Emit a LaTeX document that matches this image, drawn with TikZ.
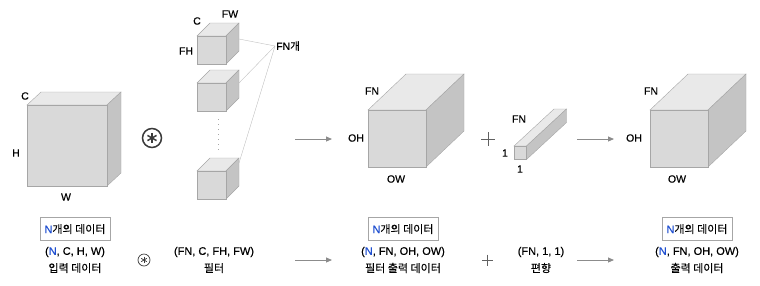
\documentclass[tikz,border=0pt]{standalone}
\usepackage{fontspec}
\setmainfont{Liberation Sans}[FakeBold=0.4]
\newfontfamily\kr{Noto Sans CJK KR}[FakeBold=0.3]
\usetikzlibrary{arrows.meta}
\definecolor{cubefront}{HTML}{D9D9D9}
\definecolor{cubetop}{HTML}{E9E9E9}
\definecolor{cubeside}{HTML}{C4C4C4}
\definecolor{cubeedge}{HTML}{A6A6A6}
\definecolor{nblue}{HTML}{1F4FD0}
\definecolor{arrowgray}{HTML}{8C8C8C}
\definecolor{signgray}{HTML}{3A3A3A}

% cube: left x, top y, width, height, depth dx, depth dy
\newcommand{\boxcube}[6]{%
  \filldraw[fill=cubetop,draw=cubeedge] (#1,#2) -- ++(#5,-#6) -- ++(#3,0) -- ++(-#5,#6) -- cycle;
  \filldraw[fill=cubeside,draw=cubeedge] (#1+#3,#2) -- ++(#5,-#6) -- ++(0,#4) -- ++(-#5,#6) -- cycle;
  \filldraw[fill=cubefront,draw=cubeedge] (#1,#2) rectangle ++(#3,#4);
}
% circled asterisk
\newcommand{\convsign}[3]{%
  \draw[signgray,line width=#3] (#1) circle (#2);
  \foreach \a in {90,150,210} {\draw[signgray,line width=#3] (#1) ++(\a:0.55*#2) -- ++(\a+180:1.1*#2);}
}

\begin{document}
\begin{tikzpicture}[x=1pt,y=-1pt,every node/.style={font=\fontsize{11}{13}\selectfont,inner sep=1pt},
  sizelbl/.style={font=\fontsize{10.5}{12}\selectfont},
  databox/.style={draw=cubeedge,inner sep=3pt,minimum width=70pt,minimum height=23pt},
  flow/.style={arrowgray,line width=0.9pt,-{Triangle[length=6pt,width=5pt]}},
  fanline/.style={cubeedge!70,line width=0.4pt}]
  \useasboundingbox (0,0) rectangle (760,285);
  % -------------------------
  % Input data
  % -------------------------
  \boxcube{27}{105}{80}{81}{14}{13}
  \node[sizelbl] (inC) at (25,96) {C};
  \node[sizelbl] (inH) at (16,153) {H};
  \node[sizelbl] (inW) at (66,197) {W};

  \coordinate (conv) at (152,138);
  \convsign{conv}{9.5pt}{1.5pt}

  % -------------------------
  % Filters (FN of them)
  % -------------------------
  \boxcube{197}{36}{29}{28}{13}{13}
  \boxcube{197}{83}{29}{28}{13}{13}
  \boxcube{197}{171}{29}{28}{13}{13}
  \draw[cubeedge,line width=1pt,dash pattern=on 1pt off 4pt] (218,119) -- (218,151);
  \node[sizelbl] (fC) at (197,21) {C};
  \node[sizelbl] (fW) at (230,14) {FW};
  \node[sizelbl] (fH) at (186,51) {FH};
  \node[sizelbl,anchor=west] (fanN) at (275,46) {FN{\kr 개}};
  \coordinate (f1) at (239,39);
  \coordinate (f2) at (239,83);
  \coordinate (f3) at (239,163);
  \foreach \f in {f1,f2,f3} \draw[fanline] (\f) -- (fanN.west);

  \coordinate (a1s) at (295,139);
  \coordinate (a1e) at (332,139);
  \draw[flow] (a1s) -- (a1e);

  % -------------------------
  % Filter output
  % -------------------------
  \boxcube{368}{110}{58}{57}{38}{36}
  \node[sizelbl] (oFN) at (372,91) {FN};
  \node[sizelbl] (oH) at (356,138) {OH};
  \node[sizelbl] (oW) at (396,179) {OW};

  % plus and bias
  \draw[signgray!80,line width=0.8pt] (481,139) -- (495,139) (488,132) -- (488,146);
  \boxcube{514}{146}{12.5}{13.5}{40}{37}
  \node[sizelbl] (bFN) at (519,119) {FN};
  \node[sizelbl] (b1l) at (505,153) {1};
  \node[sizelbl] (b1b) at (520,169) {1};

  \coordinate (a2s) at (577,139);
  \coordinate (a2e) at (614,139);
  \draw[flow] (a2s) -- (a2e);

  % -------------------------
  % Final output
  % -------------------------
  \boxcube{650}{110}{58}{57}{38}{36}
  \node[sizelbl] (rFN) at (651,91) {FN};
  \node[sizelbl] (rH) at (634,138) {OH};
  \node[sizelbl] (rW) at (677,179) {OW};

  % -------------------------
  % Shape captions
  % -------------------------
  \node[databox] (boxin) at (75,229) {\textcolor{nblue}{N}{\kr 개의 데이터}};
  \node (shin) at (75,252) {(\textcolor{nblue}{N}, C, H, W)};
  \node (nmin) at (75,268) {\kr 입력 데이터};

  \coordinate (conv2) at (144,260);
  \convsign{conv2}{6pt}{0.7pt}

  \node (shf) at (214,252) {(FN, C, FH, FW)};
  \node (nmf) at (214,268) {\kr 필터};

  \coordinate (a3s) at (295,260);
  \coordinate (a3e) at (332,260);
  \draw[flow] (a3s) -- (a3e);

  \node[databox] (boxo) at (403,229) {\textcolor{nblue}{N}{\kr 개의 데이터}};
  \node (sho) at (403,252) {(\textcolor{nblue}{N}, FN, OH, OW)};
  \node (nmo) at (403,268) {\kr 필터 출력 데이터};

  \draw[signgray!80,line width=0.5pt] (482,260) -- (493,260) (487.5,254.5) -- (487.5,265.5);

  \node (shb) at (541,252) {(FN, 1, 1)};
  \node (nmb) at (541,268) {\kr 편향};

  \coordinate (a4s) at (577,260);
  \coordinate (a4e) at (614,260);
  \draw[flow] (a4s) -- (a4e);

  \node[databox] (boxr) at (697,229) {\textcolor{nblue}{N}{\kr 개의 데이터}};
  \node (shr) at (697,252) {(\textcolor{nblue}{N}, FN, OH, OW)};
  \node (nmr) at (697,268) {\kr 출력 데이터};
\end{tikzpicture}
\end{document}
